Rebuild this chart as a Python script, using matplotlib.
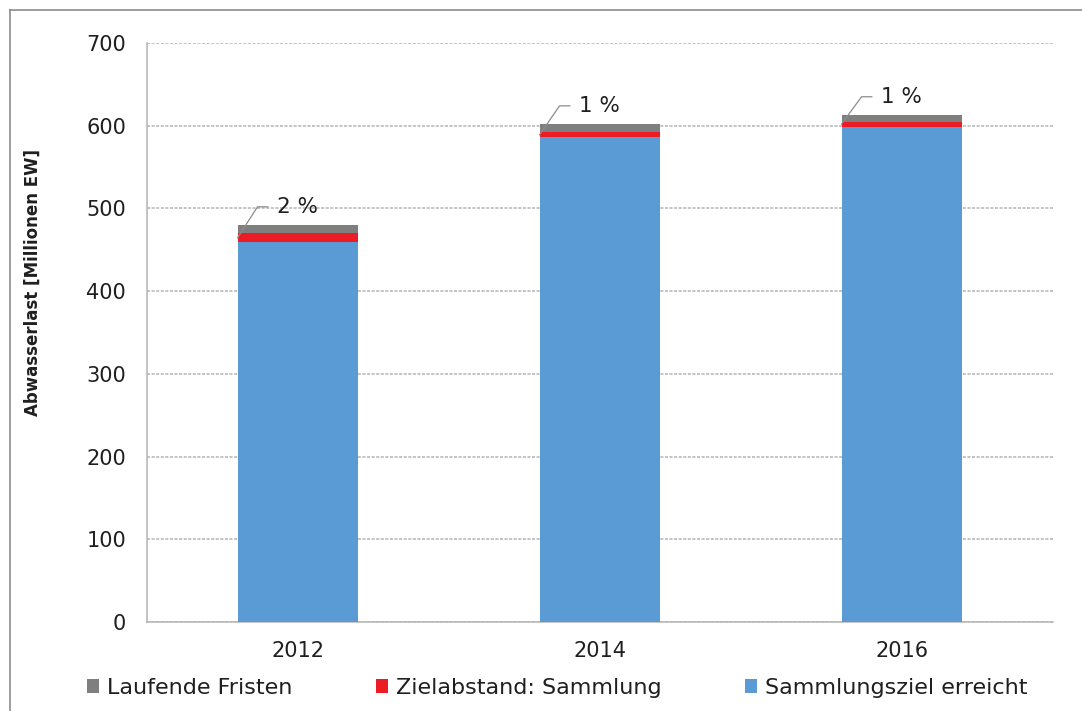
import matplotlib
matplotlib.use("Agg")
import matplotlib.pyplot as plt
from matplotlib.patches import Patch
from matplotlib.lines import Line2D
import numpy as np

plt.rcParams['font.family'] = ['DejaVu Sans']

years = ["2012", "2014", "2016"]
erreicht = [459, 586, 599]     # Sammlungsziel erreicht
zielabstand = [11, 6, 6]       # Zielabstand: Sammlung
laufend = [10, 10, 8]          # Laufende Fristen
pct_labels = ["2 %", "1 %", "1 %"]
yticks = [0, 100, 200, 300, 400, 500, 600, 700]

c_blue = "#5B9BD5"
c_red = "#ED1C24"
c_gray = "#7F7F7F"
grid_c = "#B4B4B4"
txt_c = "#1F1F1F"

fig = plt.figure(figsize=(10.82, 7.11), dpi=100)
ax = fig.add_axes([147/1082, 1-622/711, (1053-147)/1082, (622-43)/711])

x = np.arange(len(years))
w = 0.4
ax.bar(x, erreicht, w, color=c_blue, zorder=3)
ax.bar(x, zielabstand, w, bottom=erreicht, color=c_red, zorder=3)
bot3 = np.array(erreicht) + np.array(zielabstand)
ax.bar(x, laufend, w, bottom=bot3, color=c_gray, zorder=3)

ax.set_xlim(-0.5, 2.5)
ax.set_ylim(0, 700)
ax.set_yticks(yticks)
ax.set_xticks(x)
ax.set_xticklabels(years)
ax.tick_params(axis='both', length=0, labelsize=15, colors=txt_c)
ax.tick_params(axis='y', pad=15)
ax.tick_params(axis='x', pad=14)
ax.yaxis.grid(True, color=grid_c, linewidth=1.1, linestyle=(0, (2, 1)), zorder=0)
ax.set_axisbelow(True)
for s in ['top', 'right']:
    ax.spines[s].set_visible(False)
for s in ['left', 'bottom']:
    ax.spines[s].set_color(grid_c)
    ax.spines[s].set_linewidth(1.1)
    ax.spines[s].set_linestyle((0, (2, 1)))

ax.set_ylabel("Abwasserlast [Millionen EW]", fontsize=12, fontweight='bold',
              color=txt_c)
ax.yaxis.set_label_coords(-0.116, (622-282)/579)

# percent labels with leader lines
for i in range(len(years)):
    left = x[i] - w/2
    top = bot3[i] + laufend[i]
    y0 = erreicht[i] + zielabstand[i]/2
    ye = top + 22
    ax.plot([left, left + 0.066, left + 0.10], [y0, ye, ye],
            color="#8C8C8C", linewidth=0.9, zorder=4, clip_on=False)
    ax.text(left + 0.13, ye, pct_labels[i], fontsize=15.5, color=txt_c,
            va='center', ha='left', zorder=5)

handles = [Patch(facecolor=c_gray), Patch(facecolor=c_red), Patch(facecolor=c_blue)]
labels = ["Laufende Fristen", "Zielabstand: Sammlung", "Sammlungsziel erreicht"]
fig.legend(handles, labels, loc='center', bbox_to_anchor=(557/1082, 1-688/711),
           ncol=3, frameon=False, fontsize=16, handlelength=0.55, handleheight=0.55,
           handletextpad=0.35, columnspacing=3.75, labelcolor=txt_c)

# figure frame (top and left visible)
fig.add_artist(Line2D([10/1082, 1], [1-10/711, 1-10/711], transform=fig.transFigure,
                      color="#8C8C8C", linewidth=1.2))
fig.add_artist(Line2D([10/1082, 10/1082], [0, 1-10/711], transform=fig.transFigure,
                      color="#8C8C8C", linewidth=1.2))

fig.savefig("out.png", dpi=100)
